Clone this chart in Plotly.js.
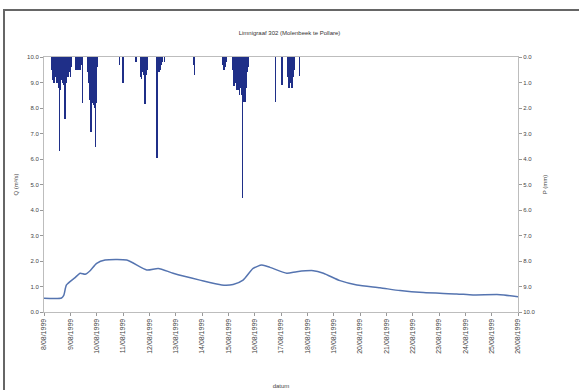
<!DOCTYPE html>
<html>
<head>
<meta charset="utf-8">
<script src="https://cdn.plot.ly/plotly-3.0.1.min.js"></script>
<style>
  html, body { margin: 0; padding: 0; background: #fff; }
  #chart { width: 579px; height: 390px; }
</style>
</head>
<body>
<div id="chart"></div>
<script>
// Discharge at the gauge (m³/s)
const flowTimes = [
  "1999-08-08 00:00", "1999-08-08 16:00", "1999-08-08 18:00", "1999-08-08 20:30",
  "1999-08-09 04:20", "1999-08-09 09:00", "1999-08-09 13:30", "1999-08-09 18:00",
  "1999-08-10 00:00", "1999-08-10 07:40", "1999-08-11 03:20", "1999-08-11 21:40",
  "1999-08-12 08:10", "1999-08-12 21:40", "1999-08-13 22:05", "1999-08-14 18:00",
  "1999-08-15 04:20", "1999-08-15 13:25", "1999-08-15 22:35", "1999-08-16 06:30",
  "1999-08-16 13:55", "1999-08-17 05:15", "1999-08-17 14:25", "1999-08-18 05:30",
  "1999-08-18 14:40", "1999-08-19 05:45", "1999-08-19 21:10", "1999-08-20 18:15",
  "1999-08-21 12:30", "1999-08-22 09:50", "1999-08-23 16:05", "1999-08-24 07:00",
  "1999-08-25 07:40", "1999-08-26 00:00"
];
const flowValues = [
  0.54, 0.55, 0.65, 1.06,
  1.35, 1.52, 1.48, 1.62,
  1.91, 2.04, 2.04, 1.65,
  1.71, 1.52, 1.25, 1.06,
  1.08, 1.25, 1.71, 1.84,
  1.75, 1.52, 1.58, 1.62,
  1.52, 1.23, 1.06, 0.95,
  0.84, 0.76, 0.71, 0.67,
  0.68, 0.60
];

// Hourly precipitation (mm)
const rainTimes = [
  "1999-08-08 07:00", "1999-08-08 08:00", "1999-08-08 09:00", "1999-08-08 10:00",
  "1999-08-08 11:00", "1999-08-08 12:00", "1999-08-08 13:00", "1999-08-08 14:00",
  "1999-08-08 15:00", "1999-08-08 16:00", "1999-08-08 17:00", "1999-08-08 18:00",
  "1999-08-08 19:00", "1999-08-08 20:00", "1999-08-08 21:00", "1999-08-08 22:00",
  "1999-08-08 23:00", "1999-08-09 00:00", "1999-08-09 01:00",
  "1999-08-09 05:00", "1999-08-09 06:00", "1999-08-09 07:00", "1999-08-09 08:00",
  "1999-08-09 09:00", "1999-08-09 10:00", "1999-08-09 11:00",
  "1999-08-09 16:00", "1999-08-09 17:00", "1999-08-09 18:00", "1999-08-09 19:00",
  "1999-08-09 20:00", "1999-08-09 21:00", "1999-08-09 22:00", "1999-08-09 23:00",
  "1999-08-10 00:00", "1999-08-10 01:00",
  "1999-08-10 21:00", "1999-08-11 00:00", "1999-08-11 12:00",
  "1999-08-11 16:00", "1999-08-11 17:00", "1999-08-11 18:00", "1999-08-11 19:00",
  "1999-08-11 20:00", "1999-08-11 21:00", "1999-08-11 22:00",
  "1999-08-12 07:00", "1999-08-12 08:00", "1999-08-12 09:00", "1999-08-12 10:00",
  "1999-08-12 11:00", "1999-08-12 12:00", "1999-08-12 14:00",
  "1999-08-13 16:00", "1999-08-13 17:00",
  "1999-08-14 19:00", "1999-08-14 20:00", "1999-08-14 21:00", "1999-08-14 22:00",
  "1999-08-15 04:00", "1999-08-15 05:00", "1999-08-15 06:00", "1999-08-15 07:00",
  "1999-08-15 08:00", "1999-08-15 09:00", "1999-08-15 10:00", "1999-08-15 11:00",
  "1999-08-15 12:00", "1999-08-15 13:00", "1999-08-15 14:00", "1999-08-15 15:00",
  "1999-08-15 16:00", "1999-08-15 17:00", "1999-08-15 18:00",
  "1999-08-16 19:00", "1999-08-17 01:00",
  "1999-08-17 06:00", "1999-08-17 07:00", "1999-08-17 08:00", "1999-08-17 09:00",
  "1999-08-17 10:00", "1999-08-17 11:00", "1999-08-17 12:00", "1999-08-17 17:00"
];
const rainValues = [
  0.5, 0.9, 1.0, 0.7,
  0.8, 1.0, 1.2, 3.7,
  1.3, 0.9, 1.0, 1.1,
  2.45, 1.0, 0.6, 0.8,
  0.6, 0.8, 0.4,
  0.5, 0.5, 0.45, 0.5,
  0.5, 0.3, 1.8,
  0.6, 1.0, 1.7, 2.93,
  1.8, 1.9, 2.0, 3.52,
  1.8, 0.4,
  0.3, 1.03, 0.2,
  0.8, 0.85, 0.6, 0.7,
  1.84, 0.7, 0.5,
  3.97, 0.6, 0.6, 0.5,
  0.3, 0.2, 0.2,
  0.3, 0.7,
  0.3, 0.5, 0.4, 0.2,
  0.5, 1.15, 1.0, 0.9,
  1.3, 1.3, 1.5, 1.2,
  1.5, 5.54, 1.75, 1.75,
  1.2, 0.6, 0.4,
  1.75, 1.1,
  0.8, 1.2, 1.2, 1.0,
  1.2, 0.8, 0.5, 0.75
];

const chartTitle = "Limnigraaf 302 (Molenbeek te Pollare)";
const flowAxisTitle = "Q (m³/s)";
const rainAxisTitle = "P (mm)";
const timeAxisTitle = "datum";

const FONT = "Liberation Sans, Arial, sans-serif";
const HOUR = 3600000;

const traces = [
  {
    type: "bar",
    x: rainTimes,
    y: rainValues,
    yaxis: "y2",
    width: HOUR * 1.3,
    marker: { color: "#1f2f88", line: { width: 0 } },
    hoverinfo: "x+y"
  },
  {
    type: "scatter",
    mode: "lines",
    x: flowTimes,
    y: flowValues,
    line: { color: "#5574b0", width: 1.5, shape: "spline", smoothing: 0.6 },
    hoverinfo: "x+y"
  }
];

const layout = {
  width: 579,
  height: 390,
  margin: { l: 44, r: 61, t: 57, b: 78 },
  paper_bgcolor: "#ffffff",
  plot_bgcolor: "#ffffff",
  showlegend: false,
  font: { family: FONT, size: 6, color: "#444" },
  title: {
    text: chartTitle,
    font: { family: FONT, size: 6, color: "#333" },
    x: 0.5, xanchor: "center",
    y: 1 - 33 / 390, yanchor: "middle", yref: "container"
  },
  xaxis: {
    type: "date",
    range: ["1999-08-08 00:00", "1999-08-26 00:00"],
    dtick: 86400000,
    tick0: "1999-08-08",
    tickformat: "%-d/%m/%Y",
    tickangle: -90,
    ticks: "outside",
    ticklen: 3,
    tickcolor: "#999",
    tickfont: { family: FONT, size: 7, color: "#444" },
    showgrid: false,
    zeroline: false,
    showline: true,
    linecolor: "#bdbdbd",
    linewidth: 1,
    mirror: true,
    title: { text: timeAxisTitle, font: { family: FONT, size: 6, color: "#444" }, standoff: 30 }
  },
  yaxis: {
    range: [0, 10],
    dtick: 1,
    tickformat: ".1f",
    ticks: "outside",
    ticklen: 3,
    tickcolor: "#999",
    tickfont: { family: FONT, size: 6, color: "#444" },
    showgrid: false,
    zeroline: false,
    showline: true,
    linecolor: "#bdbdbd",
    linewidth: 1,
    title: { text: flowAxisTitle, font: { family: FONT, size: 6, color: "#444" }, standoff: 8 }
  },
  yaxis2: {
    overlaying: "y",
    side: "right",
    range: [10, 0],
    dtick: 1,
    tickformat: ".1f",
    ticks: "outside",
    ticklen: 3,
    tickcolor: "#999",
    tickfont: { family: FONT, size: 6, color: "#444" },
    showgrid: false,
    zeroline: false,
    showline: true,
    linecolor: "#bdbdbd",
    linewidth: 1,
    title: { text: rainAxisTitle, font: { family: FONT, size: 6, color: "#444" }, standoff: 8 }
  },
  bargap: 0,
  shapes: [
    {
      // outer frame around the figure
      type: "rect",
      xref: "paper", yref: "paper",
      x0: (4 - 44) / 474, x1: (600 - 44) / 474,
      y0: (312 - 420) / 255, y1: (312 - 10) / 255,
      line: { color: "#666", width: 2 },
      fillcolor: "rgba(0,0,0,0)"
    }
  ]
};

Plotly.newPlot("chart", traces, layout, { displayModeBar: false, staticPlot: true });
</script>
</body>
</html>
